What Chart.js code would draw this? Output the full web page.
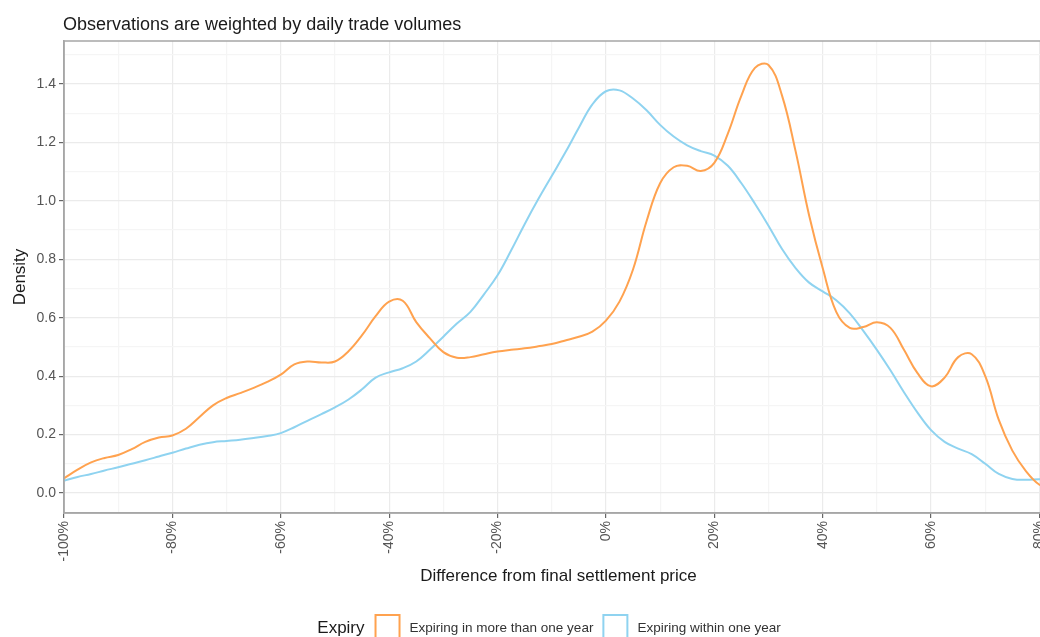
<!DOCTYPE html>
<html>
<head>
<meta charset="utf-8">
<title>Density by expiry</title>
<script src="https://cdn.jsdelivr.net/npm/chart.js@4.4.1/dist/chart.umd.min.js"></script>
<style>
    html, body { margin: 0; padding: 0; background: #fff; overflow: hidden; }
    #wrap { width: 1065px; height: 637px; }
</style>
</head>
<body>
<div id="wrap"><canvas id="density" width="1065" height="637"></canvas></div>
<script>
(function () {
    'use strict';

    // difference from final settlement price, in %
    var diffPct = [
        -100, -97.5, -95, -92.5, -90, -87.5, -85, -82.5, -80, -77.5,
        -75, -72.5, -70, -67.5, -65, -62.5, -60, -57.5, -55, -52.5,
        -50, -47.5, -45, -42.5, -40, -37.5, -35, -32.5, -30, -27.5,
        -25, -22.5, -20, -17.5, -15, -12.5, -10, -7.5, -5, -2.5,
        0, 2.5, 5, 7.5, 10, 12.5, 15, 17.5, 20, 22.5,
        25, 27.5, 30, 32.5, 35, 37.5, 40, 42.5, 45, 47.5,
        50, 52.5, 55, 57.5, 60, 62.5, 65, 67.5, 70, 72.5,
        75, 77.5, 80, 82.5
    ];

    // density, contracts expiring in more than one year
    var moreThanYear = [
        0.05, 0.08, 0.105, 0.12, 0.13, 0.15, 0.175, 0.19, 0.197, 0.22,
        0.26, 0.30, 0.325, 0.342, 0.36, 0.38, 0.405, 0.44, 0.45, 0.447,
        0.45, 0.485, 0.54, 0.605, 0.655, 0.658, 0.585, 0.53, 0.482, 0.463,
        0.465, 0.475, 0.484, 0.49, 0.495, 0.502, 0.51, 0.522, 0.535, 0.552,
        0.59, 0.655, 0.765, 0.93, 1.06, 1.115, 1.12, 1.102, 1.13, 1.23,
        1.36, 1.455, 1.465, 1.36, 1.17, 0.95, 0.77, 0.62, 0.565, 0.568,
        0.584, 0.565, 0.49, 0.41, 0.365, 0.395, 0.465, 0.475, 0.40, 0.25,
        0.145, 0.075, 0.028, 0.01
    ];

    // density, contracts expiring within one year
    var withinYear = [
        0.042, 0.055, 0.065, 0.077, 0.088, 0.10, 0.112, 0.125, 0.138, 0.152,
        0.165, 0.174, 0.178, 0.182, 0.188, 0.195, 0.205, 0.225, 0.248, 0.27,
        0.293, 0.32, 0.355, 0.395, 0.413, 0.427, 0.45, 0.49, 0.535, 0.58,
        0.62, 0.68, 0.745, 0.83, 0.92, 1.005, 1.085, 1.165, 1.25, 1.33,
        1.375, 1.378, 1.35, 1.31, 1.26, 1.22, 1.19, 1.17, 1.155, 1.12,
        1.06, 0.99, 0.915, 0.835, 0.77, 0.72, 0.69, 0.66, 0.615, 0.555,
        0.49, 0.42, 0.345, 0.275, 0.215, 0.175, 0.152, 0.133, 0.10, 0.065,
        0.048, 0.045, 0.047, 0.047
    ];

    var seriesNames = ['Expiring in more than one year', 'Expiring within one year'];
    var seriesColors = ['#FFA24F', '#8FD3F0'];

    // major ticks get labels, the ones in between are minor grid lines
    var xTicks = [-100, -90, -80, -70, -60, -50, -40, -30, -20, -10, 0, 10, 20, 30, 40, 50, 60, 70, 80];
    var yTicks = [0, 0.1, 0.2, 0.3, 0.4, 0.5, 0.6, 0.7, 0.8, 0.9, 1.0, 1.1, 1.2, 1.3, 1.4, 1.5];

    var FONT = 'Liberation Sans, Arial, Helvetica, sans-serif';

    function isMajorX(v) { return Math.round(v) % 20 === 0; }
    function isMajorY(v) { return Math.round(v * 10) % 2 === 0; }

    function toPoints(values) {
        return diffPct.map(function (x, i) {
            return { x: x, y: values[i] };
        });
    }

    // panel border all round, title on top, legend underneath
    var decorations = {
        id: 'decorations',
        afterDraw: function (chart) {
            var ctx = chart.ctx;
            var area = chart.chartArea;

            ctx.save();
            ctx.strokeStyle = '#a6a6a6';
            ctx.lineWidth = 1.5;
            ctx.strokeRect(area.left, area.top, area.right - area.left, area.bottom - area.top);

            ctx.fillStyle = '#1a1a1a';
            ctx.font = '18px ' + FONT;
            ctx.textBaseline = 'alphabetic';
            ctx.textAlign = 'left';
            ctx.fillText('Observations are weighted by daily trade volumes', area.left - 1, 29.5);

            // legend
            var midY = 627;
            var box = 26;
            ctx.font = '17px ' + FONT;
            var wTitle = ctx.measureText('Expiry').width;
            ctx.font = '13.5px ' + FONT;
            var wItems = seriesNames.map(function (n) { return ctx.measureText(n).width; });
            var total = wTitle + 10 + (box + 9) * 2 + wItems[0] + 9 + wItems[1];
            var x = 549 - total / 2;

            ctx.textBaseline = 'middle';
            ctx.font = '17px ' + FONT;
            ctx.fillStyle = '#1a1a1a';
            ctx.fillText('Expiry', x, midY + 1);
            x += wTitle + 10;

            seriesNames.forEach(function (name, i) {
                ctx.strokeStyle = seriesColors[i];
                ctx.lineWidth = 2;
                ctx.strokeRect(x + 1, midY - box / 2 + 1, box - 2, box - 2);
                x += box + 9;
                ctx.font = '13.5px ' + FONT;
                ctx.fillStyle = '#333333';
                ctx.fillText(name, x, midY + 1);
                x += wItems[i] + 9;
            });
            ctx.restore();
        }
    };

    new Chart(document.getElementById('density'), {
        type: 'line',
        data: {
            datasets: [
                {
                    label: seriesNames[0],
                    data: toPoints(moreThanYear),
                    borderColor: seriesColors[0],
                    borderWidth: 2,
                    pointRadius: 0,
                    fill: false,
                    tension: 0.4
                },
                {
                    label: seriesNames[1],
                    data: toPoints(withinYear),
                    borderColor: seriesColors[1],
                    borderWidth: 2,
                    pointRadius: 0,
                    fill: false,
                    tension: 0.4
                }
            ]
        },
        options: {
            responsive: false,
            animation: false,
            devicePixelRatio: 1,
            layout: { padding: { top: 41, left: 0, right: 12, bottom: 45 } },
            plugins: {
                legend: { display: false },
                title: { display: false },
                tooltip: { enabled: false }
            },
            scales: {
                x: {
                    type: 'linear',
                    min: -100,
                    max: 82.5,
                    afterBuildTicks: function (scale) {
                        scale.ticks = xTicks.map(function (v) { return { value: v }; });
                    },
                    afterFit: function (scale) { scale.height = 79; },
                    ticks: {
                        autoSkip: false,
                        minRotation: 90,
                        maxRotation: 90,
                        padding: 3,
                        color: '#555555',
                        font: { family: FONT, size: 14 },
                        callback: function (v) { return isMajorX(v) ? v + '%' : ''; }
                    },
                    grid: {
                        color: function (c) { return isMajorX(c.tick.value) ? '#ebebeb' : '#f5f5f5'; },
                        tickColor: function (c) { return isMajorX(c.tick.value) ? '#666666' : 'rgba(0,0,0,0)'; },
                        tickLength: 5,
                        lineWidth: 1.2
                    },
                    border: { display: true, color: '#a6a6a6', width: 1.5 },
                    title: {
                        display: true,
                        text: 'Difference from final settlement price',
                        color: '#1a1a1a',
                        font: { family: FONT, size: 17 },
                        padding: { top: 0, bottom: 5 }
                    }
                },
                y: {
                    min: -0.0685,
                    max: 1.547,
                    afterBuildTicks: function (scale) {
                        scale.ticks = yTicks.map(function (v) { return { value: v }; });
                    },
                    afterFit: function (scale) { scale.width = 64; },
                    ticks: {
                        padding: 3,
                        color: '#555555',
                        font: { family: FONT, size: 14 },
                        callback: function (v) { return isMajorY(v) ? v.toFixed(1) : ''; }
                    },
                    grid: {
                        color: function (c) { return isMajorY(c.tick.value) ? '#ebebeb' : '#f5f5f5'; },
                        tickColor: function (c) { return isMajorY(c.tick.value) ? '#666666' : 'rgba(0,0,0,0)'; },
                        tickLength: 5,
                        lineWidth: 1.2
                    },
                    border: { display: true, color: '#a6a6a6', width: 1.5 },
                    title: {
                        display: true,
                        text: 'Density',
                        color: '#1a1a1a',
                        font: { family: FONT, size: 17 },
                        padding: { top: 10, bottom: 0 }
                    }
                }
            }
        },
        plugins: [decorations]
    });
})();
</script>
</body>
</html>
